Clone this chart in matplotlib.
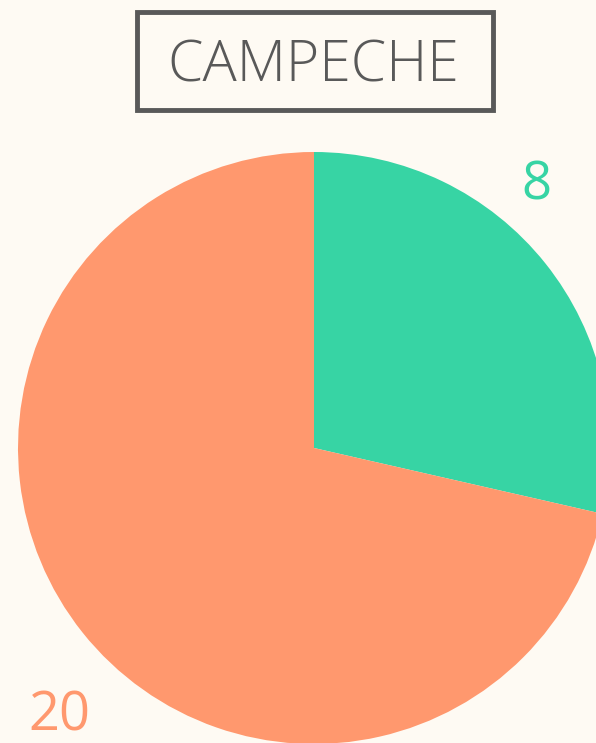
import matplotlib.pyplot as plt
from matplotlib.patches import Rectangle

# data
labels = ['A', 'B']
values = [8, 20]
colors = ['#37D4A4', '#FF986E']
BG = '#FEFAF3'

fig = plt.figure(figsize=(5.96, 7.43), dpi=100)
fig.patch.set_facecolor(BG)

# pie axes, centre at (314,448) px, radius ~296 px
ax = fig.add_axes([18 / 596, -1 / 743, 592 / 596, 592 / 743])
ax.set_facecolor(BG)
ax.pie(values, colors=colors, startangle=90, counterclock=False,
       radius=1, wedgeprops=dict(linewidth=0))
ax.set_xlim(-1, 1)
ax.set_ylim(-1, 1)
ax.set_aspect('equal')
ax.axis('off')

# value labels
ax.text(0.750, 0.885, str(values[0]), color=colors[0], fontsize=38,
        family='Open Sans', ha='center', va='center')
ax.text(-0.860, -0.905, str(values[1]), color=colors[1], fontsize=39,
        family='Open Sans', ha='center', va='center')

# title box
fig.patches.append(Rectangle((137 / 596, 1 - 110 / 743), 356 / 596, 98 / 743,
                             transform=fig.transFigure, facecolor='none',
                             edgecolor='#595959', linewidth=3.5))
fig.text(313 / 596, 1 - 82 / 743, 'CAMPECHE', fontsize=41, color='#595959',
         family='Open Sans', fontweight='light', ha='center', va='baseline')

fig.savefig('out.png', dpi=100, facecolor=BG)
